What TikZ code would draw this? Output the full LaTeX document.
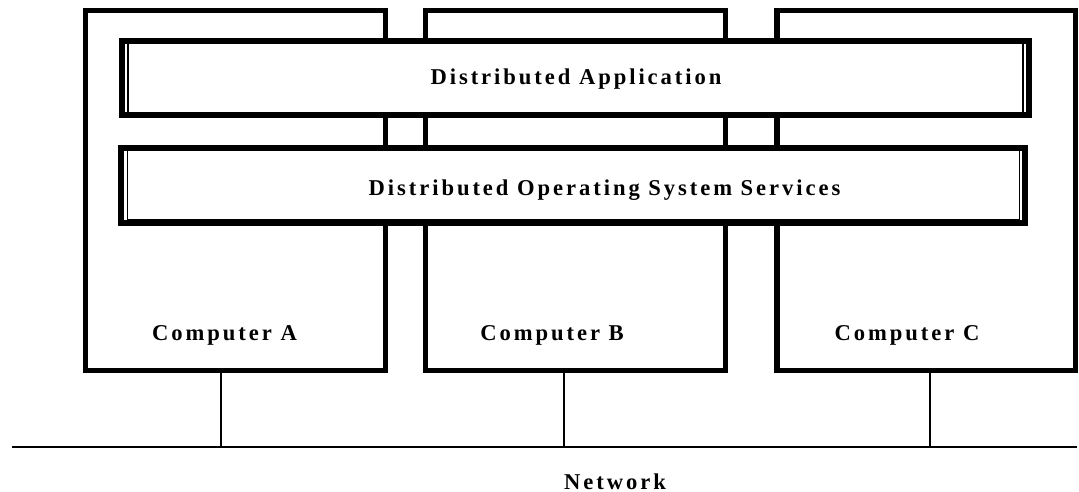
\documentclass[tikz,border=0pt]{standalone}
\usepackage{fontspec}
\setmainfont{Liberation Serif}[LetterSpace=13]
\usepackage{tikz}
\usetikzlibrary{positioning}

\begin{document}
\begin{tikzpicture}[x=1pt,y=-1pt,
  computer/.style={draw, line width=5.5pt, inner sep=0pt, minimum width=300pt, minimum height=360pt},
  layer/.style={draw, fill=white, line width=6pt, inner sep=0pt},
  lbl/.style={anchor=base, inner sep=0pt, font=\fontsize{22.6}{26}\selectfont\bfseries},
  wire/.style={line width=2pt}]
\useasboundingbox (0,0) rectangle (1079,492);
\node[computer] (compA) at (235.5,190.5) {};
\node[computer] (compB) at (575.5,190.5) {};
\node[computer, minimum width=298.5pt] (compC) at (926.25,190.5) {};
\node[layer, minimum width=907pt, minimum height=74pt] (app) at (575.5,78) {};
\draw[line width=1.5pt] ([shift={(9,5.5)}]app.north west) rectangle ([shift={(-9,-5.5)}]app.south east);
\node[layer, minimum width=904pt, minimum height=75pt] (os) at (573,185.5) {};
\draw[line width=1.5pt] ([shift={(9.5,5.5)}]os.north west) rectangle ([shift={(-8.5,-6)}]os.south east);
\node[lbl] (appText) at (576,85) {Distributed Application};
\node[lbl] (osText) at (604.5,195) {Distributed Operating System Services};
\node[lbl] (labA) at (224.5,340.5) {Computer A};
\node[lbl] (labB) at (552,340.5) {Computer B};
\node[lbl] (labC) at (907,340.5) {Computer C};
\coordinate (netL) at (12,447);
\coordinate (netR) at (1077,447);
\coordinate (tapA) at (220.5,447);
\coordinate (tapB) at (563.5,447);
\coordinate (tapC) at (929.5,447);
\draw[wire] (netL) -- (netR);
\draw[wire] (tapA |- compA.south) -- (tapA);
\draw[wire] (tapB |- compB.south) -- (tapB);
\draw[wire] (tapC |- compC.south) -- (tapC);
\node[lbl] (netText) at (615,489) {Network};
\end{tikzpicture}
\end{document}
